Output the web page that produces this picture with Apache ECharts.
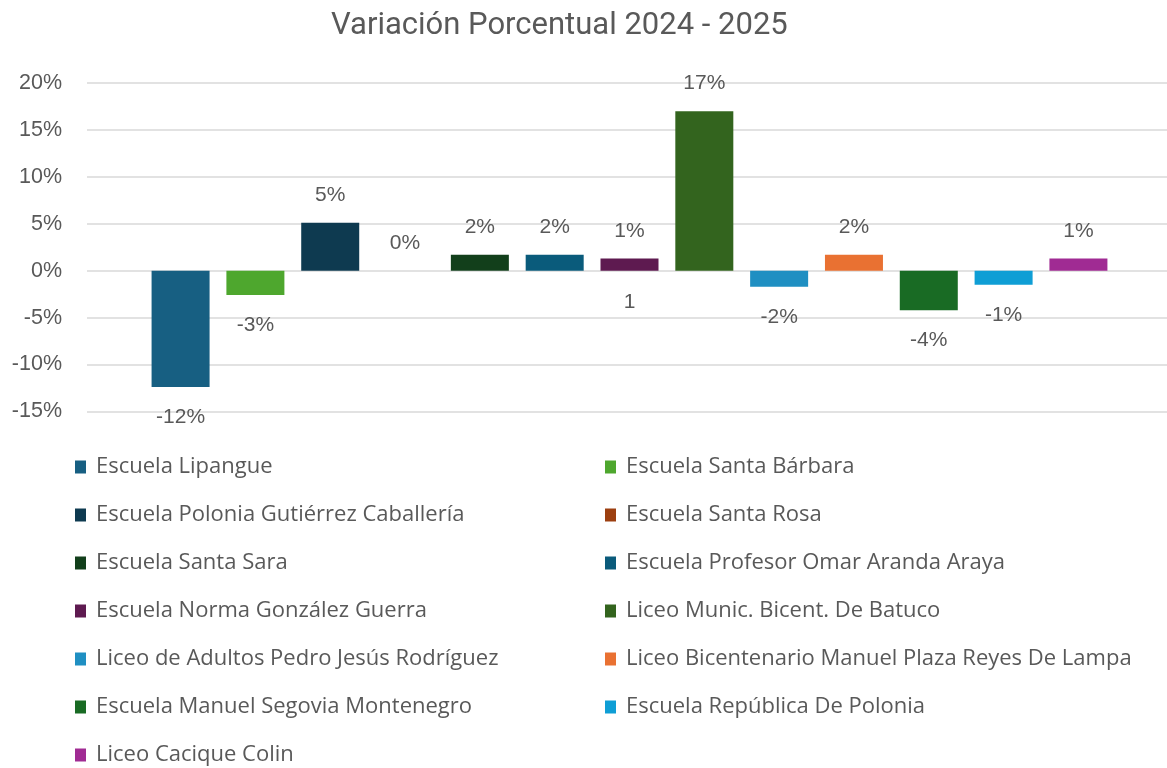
<!DOCTYPE html>
<html>
<head>
<meta charset="utf-8">
<title>Variación Porcentual 2024 - 2025</title>
<script src="https://cdn.jsdelivr.net/npm/echarts@6/dist/echarts.min.js"></script>
<style>
  html, body { margin: 0; padding: 0; background: #fff; }
  #chart { width: 1167px; height: 768px; }
</style>
</head>
<body>
<div id="chart"></div>
<script>
// datos
const schools = [
  'Escuela Lipangue',
  'Escuela Santa Bárbara',
  'Escuela Polonia Gutiérrez Caballería',
  'Escuela Santa Rosa',
  'Escuela Santa Sara',
  'Escuela Profesor Omar Aranda Araya',
  'Escuela Norma González Guerra',
  'Liceo Munic. Bicent. De Batuco',
  'Liceo de Adultos Pedro Jesús Rodríguez',
  'Liceo Bicentenario Manuel Plaza Reyes De Lampa',
  'Escuela Manuel Segovia Montenegro',
  'Escuela República De Polonia',
  'Liceo Cacique Colin'
]
const variation = [-12.4, -2.6, 5.1, 0, 1.7, 1.7, 1.3, 17.0, -1.7, 1.7, -4.2, -1.5, 1.3]
const colors = [
  '#175F82', '#4EA72E', '#0E3A50', '#9C3F10', '#123F1B', '#0A5B7B', '#5E1A50',
  '#33641E', '#1F8FC2', '#E97132', '#196B24', '#0F9ED5', '#A02B93'
]
const yTicks = { min: -15, max: 20, interval: 5 }
// etiqueta suelta bajo la barra de Escuela Norma González Guerra
const extraLabel = { series: 6, value: -3.4, text: '1' }

const textGrey = '#595959'
const chart = echarts.init(document.getElementById('chart'))

const series = schools.map((name, i) => {
  const v = variation[i]
  const s = {
    name: name,
    type: 'bar',
    barWidth: 58,
    barGap: '29%',
    itemStyle: { color: colors[i] },
    label: {
      show: true,
      position: v < 0 ? 'bottom' : 'top',
      distance: v < 0 ? 20 : 17,
      color: textGrey,
      fontFamily: 'Liberation Sans',
      fontSize: 21,
      formatter: p => Math.round(p.value) + '%'
    },
    data: [v]
  }
  if (i === extraLabel.series) {
    s.markPoint = {
      symbol: 'rect',
      symbolSize: 1,
      itemStyle: { color: 'rgba(0,0,0,0)' },
      label: {
        show: true,
        position: 'inside',
        color: textGrey,
        fontFamily: 'Liberation Sans',
        fontSize: 21,
        formatter: extraLabel.text
      },
      data: [{ coord: [0, extraLabel.value] }]
    }
  }
  return s
})

const legendStyle = {
  orient: 'vertical',
  top: 456,
  height: 340,
  padding: 0,
  itemWidth: 11,
  itemHeight: 13,
  itemGap: 26,
  icon: 'rect',
  textStyle: {
    color: textGrey,
    fontFamily: 'Open Sans',
    fontSize: 22,
    lineHeight: 22,
    padding: [0, 0, 0, 5]
  }
}

chart.setOption({
  animation: false,
  title: {
    text: 'Variación Porcentual 2024 - 2025',
    left: 326,
    top: 6,
    textStyle: {
      color: textGrey,
      fontFamily: 'Roboto',
      fontWeight: 'normal',
      fontSize: 31
    }
  },
  legend: [
    Object.assign({ left: 75, data: schools.filter((n, i) => i % 2 === 0) }, legendStyle),
    Object.assign({ left: 605, data: schools.filter((n, i) => i % 2 === 1) }, legendStyle)
  ],
  grid: {
    left: 87, top: 83, width: 1085, height: 328.5,
    containLabel: false, outerBoundsMode: 'none'
  },
  xAxis: {
    type: 'category',
    data: [''],
    axisLine: { show: false },
    axisTick: { show: false },
    axisLabel: { show: false }
  },
  yAxis: {
    type: 'value',
    min: yTicks.min,
    max: yTicks.max,
    interval: yTicks.interval,
    axisLine: { show: false },
    axisTick: { show: false },
    splitLine: { lineStyle: { color: '#D9D9D9', width: 1.5 } },
    axisLabel: {
      margin: 25,
      color: textGrey,
      fontFamily: 'Liberation Sans',
      fontSize: 21.5,
      formatter: '{value}%'
    }
  },
  series: series
})
</script>
</body>
</html>
